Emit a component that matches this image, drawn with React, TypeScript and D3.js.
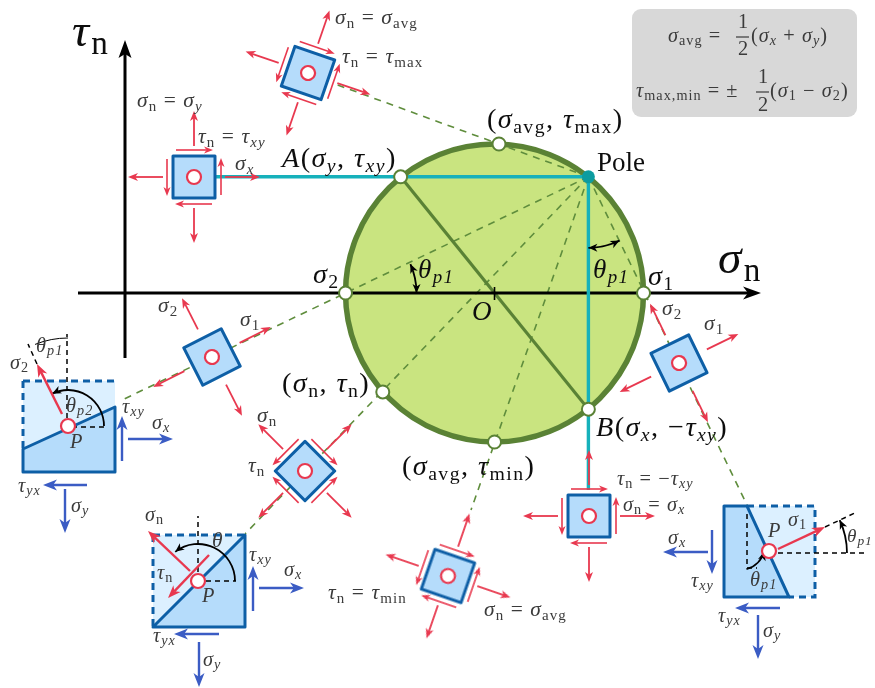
import React from "react";
import * as d3 from "d3";

// ---- stress values (stress units)
const sigmaAvg = 248;
const radius = 100;
const sigmaX = 311;
const sigmaY = 185;
const tauXY = 78;
const circlePointSigma = [251, 148, 173, 248, 348, 185, 311];
const circlePointTau = [100, 0, -66.4, -100, 0, 78, -78];
const axisLabels = ["τ_{n}", "σ_{n}"];

// rotation of each stress element, degrees, and whether it carries shear arrows
const elementRotation = [19, 0, -27, 45, 19, 0, -26];
const elementShear = [true, true, false, true, true, true, false];

// ---- layout
const W = 875, H = 688;
const sx = d3.scaleLinear().domain([0, 100]).range([125, 274]);
const sy = d3.scaleLinear().domain([0, 100]).range([293, 144]);
const elementCenter: [number, number][] = [[308, 73], [194, 177], [212, 357], [305, 471], [448, 576], [589, 516], [679, 363]];
// how far each pole ray runs past the pole, as target points
const rayEnd: [number, number][] = [[335, 84], [122, 400], [245, 534], [471, 510], [747, 505]];

const RED = "#e8394f", BLUE = "#3a5cc4", EDGE = "#0f5fa6", FILL = "#b5dcfb", LIGHT = "#dcf0ff";
const GREEN = "#5a8236", DASH = "#5f8d3c", CYAN = "#17b1bb", INK = "#3a3a3a";

const ROMAN = new Set(["n", "avg", "max", "min", "max,min"]);

function Tex({ x, y, s, size = 19, fill = INK }: any) {
  const out: any[] = [];
  let i = 0, off = 0, key = 0;
  const fs = size * 1.13;
  const push = (t: string, sub: boolean, roman: boolean) => {
    const target = sub ? fs * 0.17 : 0;
    out.push(
      <tspan key={key++} dy={target - off} fontSize={sub ? fs * 0.7 : fs} fontStyle={roman ? "normal" : "italic"}>{t}</tspan>
    );
    off = target;
  };
  while (i < s.length) {
    const c = s[i];
    if (c === "_") {
      const end = s.indexOf("}", i);
      const body = s.slice(i + 2, end);
      push(body, true, ROMAN.has(body) || /^\d+$/.test(body));
      i = end + 1;
    } else {
      const isLetter = /[A-Za-zα-ω]/.test(c);
      push(c, false, !isLetter);
      i++;
    }
  }
  return (
    <text x={x} y={y} fill={fill} letterSpacing={fs * 0.05} fontFamily="'Liberation Serif', serif" style={{ whiteSpace: "pre" }}>{out}</text>
  );
}

function Head({ x, y, ang, len, wid, color }: any) {
  const c = Math.cos(ang), s = Math.sin(ang);
  const p = (a: number, b: number) => `${x + a * c - b * s},${y + a * s + b * c}`;
  return <polygon points={[p(0, 0), p(-len, wid / 2), p(-len * 0.72, 0), p(-len, -wid / 2)].join(" ")} fill={color} />;
}

function Arrow({ x1, y1, x2, y2, color = RED, w = 1.8, len = 10, wid = 8 }: any) {
  const ang = Math.atan2(y2 - y1, x2 - x1);
  return (
    <g>
      <line x1={x1} y1={y1} x2={x2 - Math.cos(ang) * len * 0.7} y2={y2 - Math.sin(ang) * len * 0.7} stroke={color} strokeWidth={w} />
      <Head x={x2} y={y2} ang={ang} len={len} wid={wid} color={color} />
    </g>
  );
}

function StressElement({ c, rot, shear }: any) {
  const side = [[0, -1], [1, 0], [0, 1], [-1, 0]];
  return (
    <g transform={`translate(${c[0]},${c[1]}) rotate(${rot})`}>
      <rect x={-21} y={-21} width={42} height={42} fill={FILL} stroke={EDGE} strokeWidth={3} strokeLinejoin="round" />
      {side.map(([a, b], i) => (
        <Arrow key={i} x1={a * 31} y1={b * 31} x2={a * 66} y2={b * 66} />
      ))}
      {shear &&
        side.map(([a, b], i) => {
          // shear runs along the edge: top to the right, right side up, bottom left, left side down
          const dirs = [[1, 0], [0, -1], [-1, 0], [0, 1]][i];
          return (
            <Arrow key={"s" + i} x1={a * 27 - dirs[0] * 18} y1={b * 27 - dirs[1] * 18} x2={a * 27 + dirs[0] * 19} y2={b * 27 + dirs[1] * 19} w={1.6} len={9} wid={7} />
          );
        })}
      <circle r={7} fill="#fff" stroke={RED} strokeWidth={2.2} />
    </g>
  );
}

function arcD(cx: number, cy: number, r: number, a0: number, a1: number) {
  const p = d3.path();
  p.arc(cx, cy, r, (a0 * Math.PI) / 180, (a1 * Math.PI) / 180, a1 < a0);
  return p.toString();
}

function CurvedArrow({ cx, cy, r, a0, a1, both = false, head = true, w = 1.8 }: any) {
  const rad = (d: number) => (d * Math.PI) / 180;
  const tip = (a: number, dir: number) => (
    <Head x={cx + r * Math.cos(rad(a))} y={cy + r * Math.sin(rad(a))} ang={rad(a) + (dir * Math.PI) / 2} len={9} wid={8} color="#000" />
  );
  const sign = a1 > a0 ? 1 : -1;
  return (
    <g>
      <path d={arcD(cx, cy, r, a0, a1)} fill="none" stroke="#000" strokeWidth={w} />
      {head && tip(a1, sign)}
      {both && tip(a0, -sign)}
    </g>
  );
}

const dashBlack = { stroke: "#000", strokeWidth: 1.5, strokeDasharray: "5 4", fill: "none" };

function LegendBox() {
  return (
    <g>
      <rect x={632} y={9} width={225} height={108} rx={9} fill="#d8d8d8" />
      <Tex x={668} y={42} s="σ_{avg} = " size={18} />
      <Tex x={738} y={28} s="1" size={18} />
      <line x1={736} x2={749} y1={37} y2={37} stroke={INK} strokeWidth={1.2} />
      <Tex x={738} y={55} s="2" size={18} />
      <Tex x={751} y={42} s="(σ_{x} + σ_{y})" size={18} />
      <Tex x={636} y={97} s="τ_{max,min} = ±" size={18} />
      <Tex x={758} y={83} s="1" size={18} />
      <line x1={756} x2={769} y1={92} y2={92} stroke={INK} strokeWidth={1.2} />
      <Tex x={758} y={111} s="2" size={18} />
      <Tex x={770} y={97} s="(σ_{1} − σ_{2})" size={18} />
    </g>
  );
}

function WedgeLeft() {
  return (
    <g>
      <rect x={23} y={381} width={92} height={91} fill={LIGHT} />
      <path d="M23 381H115 M23 381V449" fill="none" stroke={EDGE} strokeWidth={3} strokeDasharray="7 5" />
      <polygon points="23,472 23,449 115,407 115,472" fill={FILL} stroke={EDGE} strokeWidth={3} strokeLinejoin="round" />
      <line x1={67} y1={427} x2={67} y2={334} {...dashBlack} />
      <line x1={37} y1={364} x2={28} y2={344} {...dashBlack} />
      <line x1={72} y1={427} x2={104} y2={427} {...dashBlack} strokeWidth={1.6} />
      <CurvedArrow cx={68} cy={426} r={36} a0={0} a1={-116} />
      <CurvedArrow cx={68} cy={426} r={88} a0={-90} a1={-112} head={false} w={1} />
      <Arrow x1={62} y1={414} x2={37} y2={364} w={2.4} len={13} wid={10} />
      <circle cx={68} cy={426} r={7} fill="#fff" stroke={RED} strokeWidth={2.2} />
      <Arrow x1={122} y1={461} x2={122} y2={416} color={BLUE} w={2.4} len={14} wid={11} />
      <Arrow x1={128} y1={439} x2={173} y2={439} color={BLUE} w={2.4} len={14} wid={11} />
      <Arrow x1={87} y1={485} x2={43} y2={485} color={BLUE} w={2.4} len={14} wid={11} />
      <Arrow x1={65} y1={489} x2={65} y2={533} color={BLUE} w={2.4} len={14} wid={11} />
      <Tex x={10} y={369} s="σ_{2}" size={18} />
      <Tex x={36} y={352} s="θ_{p1}" size={18} />
      <Tex x={66} y={412} s="θ_{p2}" size={18} />
      <Tex x={70} y={448} s="P" size={18} />
      <Tex x={122} y={413} s="τ_{xy}" size={18} />
      <Tex x={152} y={429} s="σ_{x}" size={18} />
      <Tex x={18} y={492} s="τ_{yx}" size={18} />
      <Tex x={71} y={512} s="σ_{y}" size={18} />
    </g>
  );
}

function WedgeMiddle() {
  return (
    <g>
      <rect x={153} y={535} width={92} height={92} fill={LIGHT} />
      <path d="M153 535H245 M153 535V627" fill="none" stroke={EDGE} strokeWidth={3} strokeDasharray="7 5" />
      <polygon points="153,627 245,535 245,627" fill={FILL} stroke={EDGE} strokeWidth={3} strokeLinejoin="round" />
      <line x1={198} y1={581} x2={198} y2={516} {...dashBlack} />
      <line x1={206} y1={581} x2={236} y2={581} {...dashBlack} strokeWidth={1.6} />
      <CurvedArrow cx={198} cy={581} r={37} a0={0} a1={-128} />
      <Arrow x1={190} y1={571} x2={148} y2={531} w={2.4} len={13} wid={10} />
      <Arrow x1={209} y1={555} x2={168} y2={598} w={2.4} len={13} wid={10} />
      <circle cx={198} cy={581} r={7} fill="#fff" stroke={RED} strokeWidth={2.2} />
      <Arrow x1={253} y1={611} x2={253} y2={566} color={BLUE} w={2.4} len={14} wid={11} />
      <Arrow x1={259} y1={588} x2={304} y2={588} color={BLUE} w={2.4} len={14} wid={11} />
      <Arrow x1={219} y1={634} x2={174} y2={634} color={BLUE} w={2.4} len={14} wid={11} />
      <Arrow x1={199} y1={642} x2={199} y2={687} color={BLUE} w={2.4} len={14} wid={11} />
      <Tex x={145} y={521} s="σ_{n}" size={18} />
      <Tex x={157} y={579} s="τ_{n}" size={18} />
      <Tex x={212} y={547} s="θ" size={19} />
      <Tex x={202} y={602} s="P" size={18} />
      <Tex x={249} y={561} s="τ_{xy}" size={18} />
      <Tex x={284} y={576} s="σ_{x}" size={18} />
      <Tex x={153} y={642} s="τ_{yx}" size={18} />
      <Tex x={203} y={666} s="σ_{y}" size={18} />
    </g>
  );
}

function WedgeRight() {
  return (
    <g>
      <rect x={724} y={506} width={91} height={91} fill={LIGHT} />
      <path d="M747 506H815V597H789" fill="none" stroke={EDGE} strokeWidth={3} strokeDasharray="7 5" />
      <polygon points="724,506 747,506 789,597 724,597" fill={FILL} stroke={EDGE} strokeWidth={3} strokeLinejoin="round" />
      <line x1={747} y1={514} x2={747} y2={568} {...dashBlack} />
      <line x1={747} y1={568} x2={757} y2={568} {...dashBlack} />
      <line x1={778} y1={553} x2={865} y2={553} {...dashBlack} />
      <line x1={825} y1={527} x2={857} y2={512} {...dashBlack} />
      <CurvedArrow cx={769} cy={553} r={78} a0={0} a1={-25} />
      <CurvedArrow cx={740} cy={545} r={25} a0={75} a1={15} />
      <Arrow x1={778} y1={549} x2={825} y2={527} w={2.4} len={13} wid={10} />
      <circle cx={769} cy={551} r={7} fill="#fff" stroke={RED} strokeWidth={2.2} />
      <Arrow x1={708} y1={552} x2={663} y2={552} color={BLUE} w={2.4} len={14} wid={11} />
      <Arrow x1={712} y1={530} x2={712} y2={574} color={BLUE} w={2.4} len={14} wid={11} />
      <Arrow x1={780} y1={608} x2={735} y2={608} color={BLUE} w={2.4} len={14} wid={11} />
      <Arrow x1={758} y1={615} x2={758} y2={659} color={BLUE} w={2.4} len={14} wid={11} />
      <Tex x={768} y={537} s="P" size={18} />
      <Tex x={788} y={526} s="σ_{1}" size={18} />
      <Tex x={847} y={542} s="θ_{p1}" size={17} />
      <Tex x={668} y={544} s="σ_{x}" size={18} />
      <Tex x={691} y={587} s="τ_{xy}" size={18} />
      <Tex x={750} y={586} s="θ_{p1}" size={18} />
      <Tex x={718} y={622} s="τ_{yx}" size={18} />
      <Tex x={763} y={637} s="σ_{y}" size={18} />
    </g>
  );
}

export default function App() {
  const cx = sx(sigmaAvg), cy = sy(0), R = sx(radius) - sx(0);
  const pole: [number, number] = [sx(sigmaX), sy(tauXY)];
  const pts = circlePointSigma.map((s, i) => [sx(s), sy(circlePointTau[i])]);
  const A = [sx(sigmaY), sy(tauXY)], B = [sx(sigmaX), sy(-tauXY)];
  return (
    <svg width={W} height={H} viewBox={`0 0 ${W} ${H}`} style={{ position: "absolute", left: 0, top: 0, display: "block", background: "#fff" }}>
      <defs>
        <filter id="soft" filterUnits="userSpaceOnUse" x={0} y={0} width={W} height={H}>
          <feGaussianBlur stdDeviation={0.55} />
        </filter>
      </defs>
      <g filter="url(#soft)">
        <circle cx={cx} cy={cy} r={R} fill="#c9e480" stroke={GREEN} strokeWidth={5.5} />
        {rayEnd.map((e, i) => (
          <line key={i} x1={pole[0]} y1={pole[1]} x2={e[0]} y2={e[1]} stroke={DASH} strokeWidth={1.6} strokeDasharray="7 6" />
        ))}
        <line x1={A[0]} y1={A[1]} x2={B[0]} y2={B[1]} stroke={GREEN} strokeWidth={3.2} />
        {/* axes */}
        <line x1={78} y1={cy} x2={748} y2={cy} stroke="#000" strokeWidth={3} />
        <polygon points={`761,${cy} 743,${cy - 6.5} 748,${cy} 743,${cy + 6.5}`} fill="#000" />
        <line x1={125} y1={358} x2={125} y2={52} stroke="#000" strokeWidth={3} />
        <polygon points="125,40 118.5,58 125,54 131.5,58" fill="#000" />
        <line x1={cx} x2={cx} y1={287} y2={300} stroke="#000" strokeWidth={1.6} />
        {/* cyan construction */}
        <line x1={216} y1={pole[1]} x2={pole[0]} y2={pole[1]} stroke={CYAN} strokeWidth={3.4} />
        <line x1={pole[0]} y1={pole[1]} x2={pole[0]} y2={490} stroke={CYAN} strokeWidth={3.4} />
        {pts.map((p, i) => (
          <circle key={i} cx={p[0]} cy={p[1]} r={6.5} fill="#fff" stroke={GREEN} strokeWidth={2} />
        ))}
        <circle cx={pole[0]} cy={pole[1]} r={6.5} fill="#0e9ca0" />
        {/* angle arcs on the circle */}
        <CurvedArrow cx={sx(circlePointSigma[1])} cy={cy} r={71} a0={0} a1={-24} both />
        <CurvedArrow cx={pole[0]} cy={pole[1]} r={71} a0={90} a1={64} both />

        {elementRotation.map((r, i) => (
          <StressElement key={i} c={elementCenter[i]} rot={r} shear={elementShear[i]} />
        ))}
        <WedgeLeft />
        <WedgeMiddle />
        <WedgeRight />
        <LegendBox />

        <Tex x={72} y={46} s={axisLabels[0]} size={42} fill="#111" />
        <Tex x={718} y={273} s={axisLabels[1]} size={42} fill="#111" />
        <Tex x={313} y={283} s="σ_{2}" size={25} fill="#111" />
        <Tex x={648} y={285} s="σ_{1}" size={25} fill="#111" />
        <Tex x={472} y={320} s="O" size={24} fill="#111" />
        <Tex x={418} y={278} s="θ_{p1}" size={24} fill="#111" />
        <Tex x={593} y={278} s="θ_{p1}" size={24} fill="#111" />
        <text x={597} y={171} fontSize={27} fontFamily="'Liberation Serif', serif" fill="#111">Pole</text>
        <Tex x={282} y={167} s="A(σ_{y}, τ_{xy})" size={25} fill="#111" />
        <Tex x={487} y={128} s="(σ_{avg}, τ_{max})" size={25} fill="#111" />
        <Tex x={282} y={392} s="(σ_{n}, τ_{n})" size={25} fill="#111" />
        <Tex x={402} y={475} s="(σ_{avg}, τ_{min})" size={25} fill="#111" />
        <Tex x={596} y={436} s="B(σ_{x}, −τ_{xy})" size={25} fill="#111" />

        <Tex x={335} y={24} s="σ_{n} = σ_{avg}" />
        <Tex x={342} y={63} s="τ_{n} = τ_{max}" />
        <Tex x={137} y={107} s="σ_{n} = σ_{y}" />
        <Tex x={198} y={143} s="τ_{n} = τ_{xy}" />
        <Tex x={235} y={170} s="σ_{x}" />
        <Tex x={158} y={312} s="σ_{2}" />
        <Tex x={240} y={326} s="σ_{1}" />
        <Tex x={662} y={315} s="σ_{2}" />
        <Tex x={704} y={330} s="σ_{1}" />
        <Tex x={617} y={485} s="τ_{n} = −τ_{xy}" size={18} />
        <Tex x={623} y={511} s="σ_{n} = σ_{x}" size={18} />
        <Tex x={484} y={616} s="σ_{n} = σ_{avg}" />
        <Tex x={328} y={599} s="τ_{n} = τ_{min}" />
        <Tex x={257} y={422} s="σ_{n}" />
        <Tex x={248} y={472} s="τ_{n}" />
      </g>
    </svg>
  );
}
